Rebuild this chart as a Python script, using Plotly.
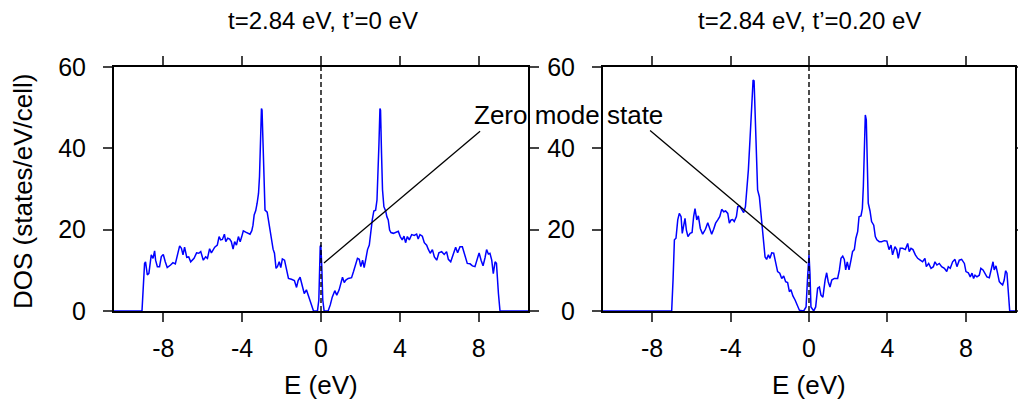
import plotly.graph_objects as go

# ---------------- data ----------------
E_left = [-10.5, -9.08, -8.95, -8.90, -8.81, -8.73, -8.61, -8.52, -8.44, -8.39, -8.30, -8.19, -8.10, -8.00,
          -7.90, -7.80, -7.63, -7.51, -7.39, -7.29, -7.17, -7.08, -7.00, -6.92, -6.81, -6.71, -6.61, -6.44,
          -6.31, -6.20, -6.10, -5.97, -5.85, -5.76, -5.65, -5.56, -5.39, -5.26, -5.17, -5.09, -5.00, -4.90,
          -4.83, -4.73, -4.63, -4.55, -4.46, -4.38, -4.29, -4.19, -4.10, -4.02, -3.94, -3.82, -3.72, -3.60,
          -3.51, -3.45, -3.39, -3.31, -3.24, -3.17, -3.12, -3.07, -3.02, -2.99, -2.94, -2.89, -2.84, -2.73,
          -2.67, -2.56, -2.50, -2.43, -2.36, -2.28, -2.21, -2.12, -2.04, -1.96, -1.85, -1.75, -1.65, -1.50,
          -1.35, -1.24, -1.16, -1.06, -0.97, -0.85, -0.74, -0.62, -0.48, -0.38, -0.18, -0.11, -0.04, -0.01,
          0.04, 0.09, 0.16, 0.36, 0.47, 0.57, 0.70, 0.80, 0.92, 1.01, 1.09, 1.18, 1.26, 1.38, 1.55, 1.65,
          1.75, 1.85, 1.94, 2.02, 2.11, 2.19, 2.28, 2.36, 2.45, 2.51, 2.60, 2.68, 2.77, 2.84, 2.89, 2.94,
          2.99, 3.02, 3.07, 3.12, 3.19, 3.28, 3.34, 3.41, 3.48, 3.55, 3.67, 3.78, 3.92, 4.02, 4.12, 4.21,
          4.29, 4.38, 4.48, 4.60, 4.73, 4.85, 4.93, 5.02, 5.14, 5.24, 5.36, 5.44, 5.54, 5.65, 5.75, 5.87,
          5.98, 6.12, 6.25, 6.37, 6.46, 6.58, 6.71, 6.83, 6.93, 7.05, 7.17, 7.30, 7.42, 7.56, 7.68, 7.81,
          7.93, 8.02, 8.12, 8.22, 8.32, 8.40, 8.49, 8.57, 8.66, 8.74, 8.83, 8.90, 9.00, 9.08, 10.5]
DOS_left = [0, 0, 11.7, 12.1, 8.85, 9.26, 13.8, 12.95, 14.8, 12.5, 10.9, 10.9, 13.4, 13.9,
            12.1, 10.7, 11.3, 11.9, 11.6, 13.8, 16.0, 15.4, 13.8, 15.7, 13.2, 13.3, 12.1, 12.95,
            14.3, 14.2, 14.6, 12.5, 13.3, 12.95, 15.3, 14.3, 15.7, 16.2, 18.3, 17.5, 17.6, 18.9,
            17.05, 17.9, 17.7, 17.05, 15.2, 17.05, 16.2, 18.3, 17.05, 18.3, 19.7, 19.4, 19.1, 18.9,
            19.75, 21.1, 23.6, 24.7, 26.5, 28.9, 33.0, 41.2, 49.8, 49.4, 41.2, 28.9, 24.8, 24.3,
            22.4, 19.1, 17.05, 15.2, 14.2, 10.5, 10.9, 12.1, 10.7, 12.8, 12.5, 10.2, 8.0, 7.8,
            7.5, 5.8, 7.5, 8.3, 6.4, 4.3, 5.2, 3.5, 1.1, 0, 0, 2.7, 15.8, 16.2,
            10.9, 2.7, 0, 0, 1.5, 3.4, 5.0, 3.9, 5.2, 7.0, 8.3, 7.0, 7.6, 8.0, 8.2, 9.7,
            11.7, 12.95, 12.7, 10.9, 12.5, 10.7, 12.95, 15.1, 16.2, 19.1, 22.4, 24.6, 24.8, 27.3, 33.0, 41.2,
            49.8, 49.4, 38.8, 29.8, 25.65, 24.6, 23.2, 22.4, 19.9, 19.3, 19.1, 19.4, 19.6, 18.3, 17.5, 18.4,
            16.8, 18.3, 17.5, 18.8, 18.6, 18.9, 17.7, 18.8, 18.4, 16.8, 16.2, 15.2, 14.2, 15.1, 13.3, 12.5,
            14.3, 14.6, 13.9, 14.6, 12.7, 12.1, 13.8, 15.7, 14.3, 15.8, 15.8, 13.3, 11.7, 11.6, 11.1, 10.9,
            12.95, 14.3, 12.5, 11.1, 13.1, 15.1, 14.0, 14.2, 12.5, 9.2, 12.1, 11.7, 4.3, 0, 0]

E_right = [-10.5, -7.00, -6.93, -6.86, -6.78, -6.69, -6.61, -6.52, -6.46, -6.39, -6.32, -6.25, -6.17, -6.06,
           -5.96, -5.88, -5.81, -5.72, -5.64, -5.54, -5.42, -5.28, -5.16, -5.06, -4.96, -4.86, -4.76, -4.65,
           -4.55, -4.45, -4.35, -4.25, -4.14, -4.06, -3.97, -3.89, -3.81, -3.70, -3.63, -3.53, -3.43, -3.33,
           -3.24, -3.18, -3.09, -3.01, -2.92, -2.85, -2.80, -2.75, -2.68, -2.62, -2.53, -2.46, -2.39, -2.33,
           -2.24, -2.16, -2.07, -1.99, -1.90, -1.80, -1.70, -1.60, -1.49, -1.39, -1.29, -1.19, -1.09, -1.00,
           -0.92, -0.82, -0.71, -0.61, -0.49, -0.27, -0.15, -0.07, 0.00, 0.05, 0.10, 0.24, 0.34, 0.44,
           0.53, 0.61, 0.71, 0.82, 0.90, 0.98, 1.07, 1.16, 1.29, 1.46, 1.55, 1.63, 1.72, 1.80, 1.87, 1.95,
           2.04, 2.14, 2.22, 2.31, 2.39, 2.48, 2.55, 2.65, 2.72, 2.77, 2.82, 2.87, 2.92, 2.97, 3.02, 3.11,
           3.19, 3.30, 3.38, 3.46, 3.58, 3.70, 3.84, 3.97, 4.08, 4.18, 4.26, 4.38, 4.47, 4.55, 4.65, 4.77,
           4.91, 5.03, 5.11, 5.20, 5.30, 5.42, 5.54, 5.67, 5.79, 5.91, 5.98, 6.10, 6.22, 6.34, 6.42, 6.52,
           6.64, 6.76, 6.90, 7.02, 7.10, 7.20, 7.32, 7.44, 7.54, 7.66, 7.78, 7.92, 8.00, 8.12, 8.22, 8.31,
           8.39, 8.46, 8.56, 8.68, 8.76, 8.87, 8.97, 9.07, 9.19, 9.31, 9.38, 9.44, 9.53, 9.61, 9.70, 9.78,
           9.87, 9.95, 10.02, 10.09, 10.16, 10.23, 10.5]
DOS_right = [0, 0, 7.6, 17.5, 17.9, 22.4, 24.0, 23.2, 19.1, 21.1, 22.8, 19.9, 18.3, 19.1,
             19.3, 23.2, 25.2, 22.4, 23.4, 20.3, 18.9, 20.1, 21.7, 20.3, 18.9, 20.1, 21.6, 22.4,
             23.2, 25.0, 24.4, 24.6, 24.0, 21.6, 22.4, 22.5, 22.0, 23.2, 25.65, 25.8, 24.8, 24.2,
             25.65, 28.9, 34.7, 42.0, 49.4, 56.8, 56.6, 49.4, 37.1, 29.8, 28.1, 24.0, 20.7, 17.9,
             13.3, 12.7, 13.8, 12.95, 14.3, 14.2, 11.7, 9.7, 9.3, 8.0, 8.6, 7.2, 7.0, 4.75,
             5.2, 3.7, 2.7, 1.5, 0.2, 0, 1.0, 8.4, 13.8, 9.2, 1.0, 0, 1.0, 5.6,
             5.9, 3.9, 3.4, 7.6, 9.4, 7.2, 5.9, 7.6, 8.0, 8.0, 10.1, 12.95, 13.5, 12.7, 10.1, 12.1,
             10.1, 12.5, 14.6, 15.1, 17.9, 19.5, 23.2, 23.4, 25.2, 30.6, 39.6, 48.2, 47.0, 35.5, 26.5, 24.6,
             22.0, 21.1, 18.3, 17.5, 17.05, 17.05, 17.3, 17.2, 15.1, 16.2, 13.8, 15.8, 15.1, 12.95, 15.4, 15.4,
             15.1, 16.6, 14.6, 15.4, 15.1, 13.8, 12.95, 12.5, 12.1, 12.95, 10.9, 11.7, 10.5, 10.9, 12.1, 11.3,
             11.7, 10.9, 10.5, 9.7, 10.9, 10.5, 12.1, 12.7, 10.9, 12.5, 12.7, 11.7, 9.7, 9.4, 8.4, 9.3,
             8.0, 8.8, 8.4, 8.8, 10.5, 10.1, 9.3, 8.4, 8.2, 10.9, 12.1, 10.1, 11.1, 9.3, 7.2, 6.8,
             6.4, 7.6, 9.9, 9.3, 4.3, 0, 0]

titles = ["t=2.84 eV, t\u2019=0 eV", "t=2.84 eV, t\u2019=0.20 eV"]
x_ticks = [-8, -4, 0, 4, 8]
x_ticktext = ["-8", "-4", "0", "4", "8"]
y_ticks = [0, 20, 40, 60]
x_range = [-10.5, 10.5]
y_range = [0, 60]
# annotation pointer endpoints (data units): (x_text_end, y_text_end, x_state, y_state)
ptr_left = [8.07, 44.2, 0.15, 11.8]
ptr_right = [-8.1, 44.4, -0.1, 11.8]

FONT = "Liberation Sans, Arial, Helvetica, sans-serif"

fig = go.Figure()
fig.add_trace(go.Scatter(x=E_left, y=DOS_left, mode="lines", line=dict(color="#0000ff", width=1.5),
                         xaxis="x", yaxis="y", showlegend=False))
fig.add_trace(go.Scatter(x=E_right, y=DOS_right, mode="lines", line=dict(color="#0000ff", width=1.5),
                         xaxis="x2", yaxis="y2", showlegend=False))

ax_common = dict(range=x_range, tickvals=x_ticks, ticktext=x_ticktext, ticks="outside", ticklen=9,
                 tickwidth=2, showline=True, linewidth=2, linecolor="black", mirror="ticks",
                 showgrid=False, zeroline=False, ticklabelstandoff=5,
                 tickfont=dict(size=25, color="black", family=FONT))
ay_common = dict(range=y_range, tickvals=y_ticks, ticks="outside", ticklen=9, tickwidth=2,
                 showline=True, linewidth=2, linecolor="black", mirror="ticks", showgrid=False,
                 zeroline=False, ticklabelstandoff=12,
                 tickfont=dict(size=25, color="black", family=FONT))

# screen mapping observed: screen_x = SX * (fig_x + OFF), screen_y = fig_y + OFF
OFF = 8
SX = 0.9885
def fx(sx):
    return sx / SX - OFF
def fy(sy):
    return sy - OFF

W, H = 1022, 395
ml = fx(113)
plot_r = fx(1014)
mt = fy(67)
plot_b = fy(311)
mr = W - plot_r
mb = H - plot_b
pw = W - ml - mr
ph = H - mt - mb
d1 = (fx(527) - ml) / pw
d2 = (fx(602) - ml) / pw

fig.update_layout(
    width=W, height=H, margin=dict(l=ml, r=mr, t=mt, b=mb, pad=0),
    paper_bgcolor="white", plot_bgcolor="white",
    font=dict(family=FONT, color="black"),
    xaxis=dict(domain=[0, d1], anchor="y", **ax_common),
    yaxis=dict(domain=[0, 1], anchor="x", **ay_common),
    xaxis2=dict(domain=[d2, 1], anchor="y2", **ax_common),
    yaxis2=dict(domain=[0, 1], anchor="x2", **ay_common),
)

shapes = []
for xr, yr in (("x", "y domain"), ("x2", "y2 domain")):
    shapes.append(dict(type="line", xref=xr, yref=yr, x0=0, x1=0, y0=0, y1=1,
                       line=dict(color="black", width=1.4, dash="5px,3px")))
shapes.append(dict(type="line", xref="x", yref="y", x0=ptr_left[0], y0=ptr_left[1],
                   x1=ptr_left[2], y1=ptr_left[3], line=dict(color="black", width=1.3)))
shapes.append(dict(type="line", xref="x2", yref="y2", x0=ptr_right[0], y0=ptr_right[1],
                   x1=ptr_right[2], y1=ptr_right[3], line=dict(color="black", width=1.3)))
fig.update_layout(shapes=shapes)

def px2paper_x(sx):
    return (fx(sx) - ml) / pw
def px2paper_y(sy):
    return (H - mb - fy(sy)) / ph

ann = []
ann.append(dict(text=titles[0], x=px2paper_x(322), y=px2paper_y(21), xref="paper", yref="paper",
                showarrow=False, xanchor="center", yanchor="middle", font=dict(size=24)))
ann.append(dict(text=titles[1], x=px2paper_x(808), y=px2paper_y(21), xref="paper", yref="paper",
                showarrow=False, xanchor="center", yanchor="middle", font=dict(size=24)))
for cx in (320, 808):
    ann.append(dict(text="E (eV)", x=px2paper_x(cx), y=px2paper_y(385), xref="paper", yref="paper",
                    showarrow=False, xanchor="center", yanchor="middle", font=dict(size=26)))
ann.append(dict(text="DOS (states/eV/cell)", x=px2paper_x(22), y=px2paper_y(191), xref="paper",
                yref="paper", showarrow=False, textangle=-90, xanchor="center", yanchor="middle",
                font=dict(size=26)))
ann.append(dict(text="Zero mode state", x=px2paper_x(567), y=px2paper_y(115), xref="paper",
                yref="paper", showarrow=False, xanchor="center", yanchor="middle",
                font=dict(size=26)))
fig.update_layout(annotations=ann)

fig.write_html("out.html")
